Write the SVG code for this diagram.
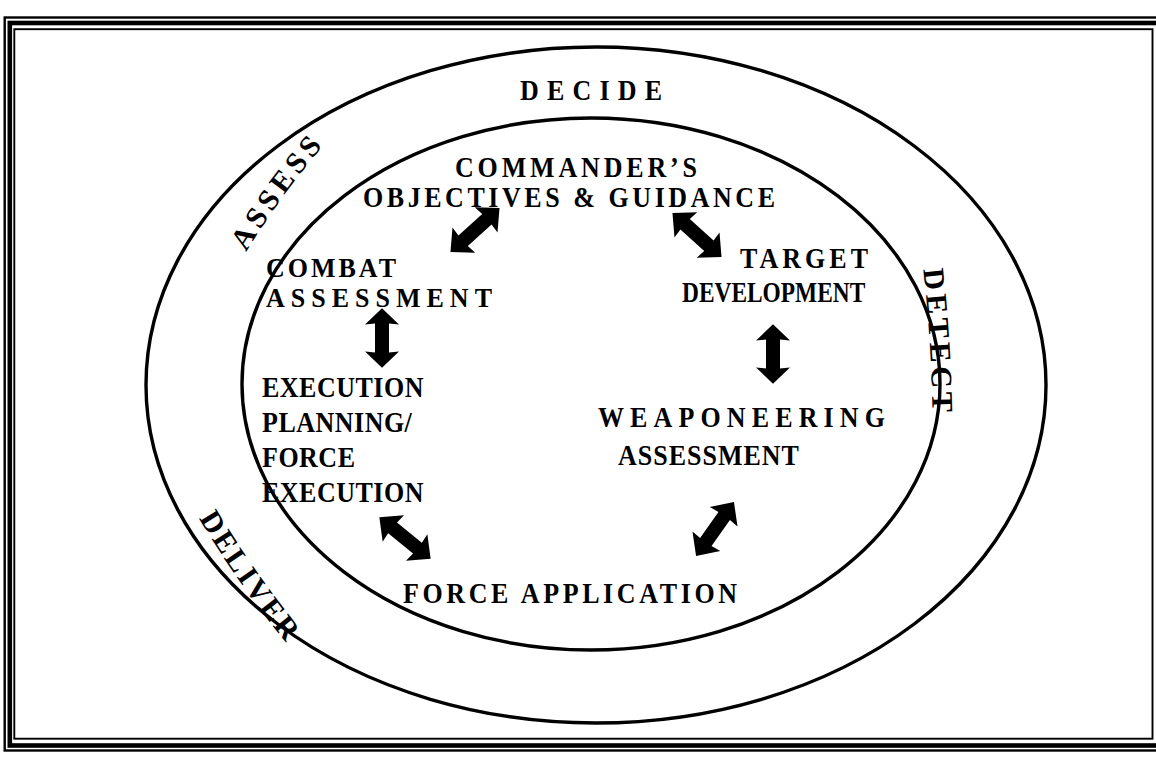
<svg xmlns="http://www.w3.org/2000/svg" width="1156" height="760" viewBox="0 0 1156 760">
  <style>
    .frame { fill: none; stroke: #000; }
    .ring { fill: none; stroke: #000; stroke-width: 3.4; }
    .lbl { font-family: "Liberation Serif", "Times New Roman", serif; font-weight: bold; font-size: 26px; fill: #000; }
    .band { font-family: "Liberation Serif", "Times New Roman", serif; font-weight: bold; font-size: 30px; fill: #000; }
    .arrow { fill: #000; }
  </style>
  <defs>
    <!-- double-headed block arrow, centred on the origin, pointing along x -->
    <path id="dblArrow" d="M -33 0 L -15 -17 L -16 -7 L 16 -7 L 15 -17 L 33 0 L 15 17 L 16 7 L -16 7 L -15 17 Z"/>
    <path id="pathAssess" d="M 232 276 Q 279 193 344 122"/>
    <path id="pathDetect" d="M 921 250 Q 932 340 933 436"/>
    <path id="pathDeliver" d="M 186 496 Q 236 585 304 664"/>
  </defs>

  <rect width="1156" height="760" fill="#fff"/>

  <!-- triple-line border -->
  <g id="border">
    <rect class="frame" x="4.7" y="17.5" width="1160" height="733" stroke-width="2.4"/>
    <rect class="frame" x="9.8" y="23" width="1148.5" height="722.5" stroke-width="4.6"/>
    <rect class="frame" x="14.3" y="29.2" width="1138.2" height="709.5" stroke-width="1.9"/>
  </g>

  <!-- concentric cycle rings -->
  <g id="rings">
    <ellipse id="outerRing" class="ring" cx="596" cy="385" rx="450" ry="338"/>
    <ellipse id="innerRing" class="ring" cx="591" cy="384" rx="349" ry="266"/>
  </g>

  <!-- phase labels on the outer band -->
  <g id="phase-decide"><text class="lbl" transform="translate(520 100) scale(1 1.12)" textLength="142" lengthAdjust="spacing">DECIDE</text></g>
  <g id="phase-assess"><text class="band"><textPath href="#pathAssess" startOffset="50%" text-anchor="middle" letter-spacing="4.5">ASSESS</textPath></text></g>
  <g id="phase-detect"><text class="band"><textPath href="#pathDetect" startOffset="50%" text-anchor="middle" letter-spacing="4">DETECT</textPath></text></g>
  <g id="phase-deliver"><text class="band"><textPath href="#pathDeliver" startOffset="50%" text-anchor="middle" letter-spacing="2.5">DELIVER</textPath></text></g>

  <!-- process steps -->
  <g id="step-objectives">
    <text class="lbl" transform="translate(455 177) scale(1 1.12)" textLength="242" lengthAdjust="spacing">COMMANDER’S</text>
    <text class="lbl" transform="translate(363 207) scale(1 1.12)" textLength="412" lengthAdjust="spacing">OBJECTIVES &amp; GUIDANCE</text>
  </g>
  <g id="step-target">
    <text class="lbl" transform="translate(740 268) scale(1 1.12)" textLength="128" lengthAdjust="spacing">TARGET</text>
    <text class="lbl" transform="translate(682 302) scale(0.9 1.12)">DEVELOPMENT</text>
  </g>
  <g id="step-weaponeering">
    <text class="lbl" transform="translate(598 427) scale(1 1.12)" textLength="287" lengthAdjust="spacing">WEAPONEERING</text>
    <text class="lbl" transform="translate(618 465) scale(1 1.12)" letter-spacing="1">ASSESSMENT</text>
  </g>
  <g id="step-force-application">
    <text class="lbl" transform="translate(403 603) scale(1 1.12)" textLength="334" lengthAdjust="spacing">FORCE APPLICATION</text>
  </g>
  <g id="step-execution">
    <text class="lbl" transform="translate(262 397) scale(1 1.12)" letter-spacing="0.5">EXECUTION</text>
    <text class="lbl" transform="translate(262 432) scale(1 1.12)" letter-spacing="0.5">PLANNING/</text>
    <text class="lbl" transform="translate(262 467) scale(1 1.12)" letter-spacing="0.5">FORCE</text>
    <text class="lbl" transform="translate(262 502) scale(1 1.12)" letter-spacing="0.5">EXECUTION</text>
  </g>
  <g id="step-combat">
    <text class="lbl" transform="translate(266 277) scale(1 1.08)" letter-spacing="3">COMBAT</text>
    <text class="lbl" transform="translate(266 307) scale(1 1.08)" textLength="226" lengthAdjust="spacing">ASSESSMENT</text>
  </g>

  <!-- two-way links between steps -->
  <g id="connectors" class="arrow">
    <use href="#dblArrow" transform="translate(475,230) rotate(-42)"/>
    <use href="#dblArrow" transform="translate(697,235) rotate(42)"/>
    <use href="#dblArrow" transform="translate(773,354) rotate(90) scale(0.9,1)"/>
    <use href="#dblArrow" transform="translate(715,529) rotate(-55)"/>
    <use href="#dblArrow" transform="translate(405,538) rotate(39)"/>
    <use href="#dblArrow" transform="translate(382,338) rotate(90) scale(0.9,1)"/>
  </g>
</svg>
